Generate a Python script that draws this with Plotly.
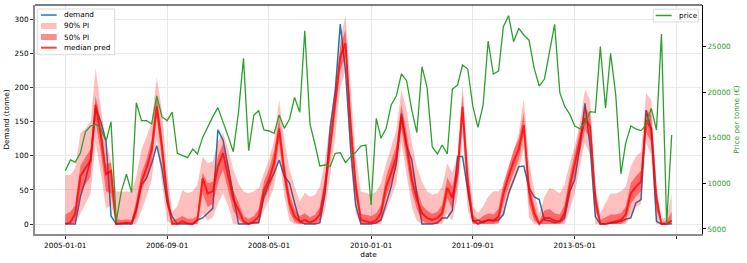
import pandas as pd
import plotly.graph_objects as go

# ---------------- data ----------------
start_month = "2005-01-01"
n_months = 120
dates = pd.date_range(start_month, periods=n_months, freq="MS").strftime("%Y-%m-%d").tolist()

demand = [0, 0, 0, 40, 65, 95, 170, 150, 122, 12, 0, 0,
          0, 0, 21, 58, 67, 89, 115, 82, 31, 11, 0, 0,
          0, 0, 6, 9, 16, 23, 138, 123, 84, 43, 0, 0,
          0, 2, 2, 40, 60, 75, 94, 70, 60, 31, 4, 0,
          0, 0, 2, 45, 140, 195, 293, 225, 110, 28, 0, 0,
          0, 2, 6, 30, 55, 90, 162, 114, 94, 45, 0, 0,
          0, 2, 9, 9, 20, 99, 99, 50, 4, 6, 2, 6,
          5, 6, 14, 45, 65, 84, 85, 53, 40, 36, 6, 5,
          2, 4, 9, 48, 65, 114, 177, 114, 11, 0, 0, 2,
          2, 4, 7, 9, 31, 36, 167, 138, 4, 0, 0, 0]

median_pred = [0, 3, 15, 70, 82, 93, 175, 130, 73, 78, 0, 1,
               2, 1, 23, 62, 82, 109, 173, 114, 40, 0, 0, 4,
               1, 0, 6, 67, 45, 48, 84, 104, 70, 36, 21, 4,
               0, 4, 11, 50, 65, 90, 140, 75, 31, 11, 4, 6,
               2, 6, 14, 55, 114, 177, 245, 265, 143, 55, 6, 4,
               2, 6, 16, 55, 75, 99, 158, 115, 65, 36, 16, 9,
               6, 9, 16, 53, 38, 75, 172, 60, 6, 0, 4, 6,
               5, 11, 45, 70, 92, 110, 145, 48, 16, 0, 9, 9,
               5, 4, 16, 55, 89, 123, 155, 143, 36, 0, 0, 2,
               4, 6, 14, 45, 55, 62, 152, 140, 36, 0, 0, 5]

pi90_low = [0, 0, 0, 15, 30, 45, 120, 75, 23, 28, 0, 0,
            0, 0, 0, 20, 40, 65, 125, 60, 5, 0, 0, 0,
            0, 0, 0, 15, 5, 10, 30, 45, 26, 0, 0, 0,
            0, 0, 0, 20, 35, 55, 100, 40, 5, 0, 0, 0,
            0, 0, 0, 20, 70, 130, 200, 225, 90, 15, 0, 0,
            0, 0, 0, 20, 40, 60, 120, 70, 25, 5, 0, 0,
            0, 0, 0, 15, 5, 40, 130, 20, 0, 0, 0, 0,
            0, 0, 15, 40, 60, 80, 110, 10, 0, 0, 0, 0,
            0, 0, 0, 20, 45, 85, 120, 100, 0, 0, 0, 0,
            0, 0, 0, 10, 25, 30, 120, 100, 0, 0, 0, 0]

pi90_high = [72, 72, 82, 133, 140, 150, 228, 170, 118, 92, 48, 47,
             48, 47, 70, 110, 128, 150, 215, 167, 75, 18, 26, 50,
             45, 48, 58, 99, 89, 92, 121, 133, 109, 80, 60, 48,
             45, 48, 53, 75, 94, 123, 182, 123, 80, 55, 33, 46,
             40, 43, 55, 94, 148, 206, 270, 306, 201, 99, 48, 45,
             43, 48, 60, 89, 114, 138, 197, 167, 118, 84, 62, 48,
             43, 45, 55, 89, 75, 99, 205, 99, 26, 16, 26, 40,
             48, 48, 55, 82, 109, 133, 184, 90, 50, 15, 40, 53,
             50, 45, 58, 89, 114, 148, 197, 182, 55, 16, 31, 45,
             45, 48, 55, 84, 99, 106, 192, 182, 55, 8, 10, 45]

pi50_low = [0, 0, 3, 45, 58, 70, 150, 105, 48, 45, 0, 0,
            0, 0, 10, 48, 68, 92, 155, 95, 25, 0, 0, 0,
            0, 0, 0, 45, 25, 30, 60, 80, 50, 20, 8, 0,
            0, 0, 2, 35, 50, 72, 120, 60, 18, 3, 0, 0,
            0, 0, 5, 40, 95, 160, 225, 245, 120, 40, 0, 0,
            0, 0, 5, 40, 60, 82, 140, 95, 48, 22, 5, 0,
            0, 0, 5, 38, 22, 58, 150, 40, 0, 0, 0, 0,
            0, 2, 30, 55, 75, 95, 130, 30, 5, 0, 0, 0,
            0, 0, 5, 40, 72, 105, 138, 125, 20, 0, 0, 0,
            0, 0, 4, 30, 40, 48, 135, 120, 20, 0, 0, 0]

pi50_high = [14, 18, 28, 85, 98, 110, 188, 150, 88, 90, 8, 6,
             7, 6, 35, 75, 95, 125, 190, 130, 55, 5, 8, 12,
             8, 8, 12, 75, 60, 62, 100, 118, 85, 50, 32, 12,
             8, 12, 22, 62, 80, 108, 155, 90, 45, 22, 12, 16,
             10, 14, 25, 70, 130, 190, 260, 285, 165, 72, 15, 14,
             12, 16, 28, 70, 92, 115, 175, 135, 85, 52, 28, 20,
             15, 18, 28, 68, 55, 90, 190, 80, 14, 6, 12, 16,
             14, 22, 60, 86, 108, 125, 162, 65, 28, 5, 20, 22,
             16, 14, 28, 70, 105, 140, 172, 160, 52, 6, 10, 14,
             14, 16, 25, 60, 70, 78, 168, 160, 52, 3, 4, 18]

price = [11400, 12570, 12330, 13330, 15670, 16300, 16480, 16040, 14580, 16770, 5800, 9100,
         11000, 9000, 18850, 16880, 16880, 16520, 19590, 17320, 16880, 17830, 13300, 13080,
         12820, 13770, 13230, 15050, 16220, 17320, 18310, 16770, 15130, 13480, 17800, 23720,
         13590, 17500, 17980, 15860, 15750, 15490, 17500, 16040, 17065, 19440, 17800, 26750,
         16520, 14210, 11910, 12020, 11840, 13300, 13370, 12275, 12930, 13410, 14100, 14210,
         7630, 17140, 14950, 16040, 18600, 19620, 22000, 21270, 18050, 15570, 22800, 20540,
         14030, 13230, 14210, 13230, 20320, 20790, 22990, 22550, 18420, 16150, 18600, 25620,
         22000, 22330, 27190, 28400, 25550, 27010, 26280, 25730, 22620, 20680, 21450, 24400,
         27450, 19950, 18490, 17610, 16300, 16000, 16590, 17870, 17800, 25000, 18240, 24270,
         19700, 11030, 14400, 16300, 15970, 15790, 16410, 18240, 15860, 26390, 5550, 15310]

x_tick_vals = ["2005-01-01", "2006-09-01", "2008-05-01", "2010-01-01",
               "2011-09-01", "2013-05-01", "2015-01-01"]
x_tick_text = ["2005-01-01", "2006-09-01", "2008-05-01", "2010-01-01",
               "2011-09-01", "2013-05-01", ""]
left_ticks = [0, 50, 100, 150, 200, 250, 300]
right_ticks = [5000, 10000, 15000, 20000, 25000]
right_tick_text = ["5000", "10000", "15000", "20000", "25000"]
legend_left_labels = ["demand", "90% PI", "50% PI", "median pred"]
legend_right_labels = ["price"]

# ---------------- style ----------------
BLUE = "#1f77b4"
GREEN = "#2ca02c"
FILL90 = "rgba(255,0,0,0.25)"
FILL50 = "rgba(255,0,0,0.45)"
MED = "rgba(255,0,0,0.75)"
FONT = "DejaVu Sans"
FS = 7.3
W, H = 747, 263
ML, MR, MT, MB = 35, 45, 5, 29
PW, PH = W - ML - MR, H - MT - MB


def X(px):
    return (px - ML) / PW


def Y(py):
    return (H - MB - py) / PH


fig = go.Figure()
fig.add_trace(go.Scatter(x=dates, y=demand, mode="lines", line=dict(color=BLUE, width=1.5),
                         name=legend_left_labels[0]))
fig.add_trace(go.Scatter(x=dates, y=pi90_low, mode="lines", line=dict(width=0),
                         hoverinfo="skip"))
fig.add_trace(go.Scatter(x=dates, y=pi90_high, mode="lines", line=dict(width=0),
                         fill="tonexty", fillcolor=FILL90, name=legend_left_labels[1]))
fig.add_trace(go.Scatter(x=dates, y=pi50_low, mode="lines", line=dict(width=0),
                         hoverinfo="skip"))
fig.add_trace(go.Scatter(x=dates, y=pi50_high, mode="lines", line=dict(width=0),
                         fill="tonexty", fillcolor=FILL50, name=legend_left_labels[2]))
fig.add_trace(go.Scatter(x=dates, y=median_pred, mode="lines", line=dict(color=MED, width=2),
                         name=legend_left_labels[3]))
fig.add_trace(go.Scatter(x=dates, y=price, mode="lines", line=dict(color=GREEN, width=1.3),
                         name=legend_right_labels[0], yaxis="y2"))

fig.update_layout(
    width=W, height=H, autosize=False,
    margin=dict(l=ML, r=MR, t=MT, b=MB, pad=0),
    paper_bgcolor="white", plot_bgcolor="white",
    showlegend=False,
    font=dict(family=FONT, size=FS, color="#000000"),
    xaxis=dict(
        type="date", range=["2004-07-04", "2015-05-31"],
        tickmode="array", tickvals=x_tick_vals, ticktext=x_tick_text,
        showgrid=True, gridcolor="#e9e9e9", gridwidth=1,
        showline=True, linecolor="#8c8c8c", linewidth=2,
        ticks="outside", ticklen=3, tickwidth=0.8, tickcolor="#333333",
        zeroline=False,
        title=dict(text="date", standoff=3, font=dict(size=FS)),
        tickfont=dict(size=FS),
    ),
    yaxis=dict(
        range=[-14.5, 321], tickmode="array", tickvals=left_ticks,
        showgrid=True, gridcolor="#e9e9e9", gridwidth=1,
        showline=True, linecolor="#8c8c8c", linewidth=2,
        ticks="outside", ticklen=3, tickwidth=0.8, tickcolor="#333333",
        zeroline=False,
        title=dict(text="Demand (tonne)", standoff=4, font=dict(size=FS)),
        tickfont=dict(size=FS),
    ),
    yaxis2=dict(
        overlaying="y", side="right", anchor="x",
        range=[4450, 29570], tickmode="array", tickvals=right_ticks, ticktext=right_tick_text,
        showgrid=False, zeroline=False,
        showline=True, linecolor="#000000", linewidth=1,
        ticks="outside", ticklen=3, tickwidth=0.8, tickcolor="#000000",
        tickfont=dict(size=FS, color=GREEN),
        title=dict(text="Price per tonne (€)", standoff=3, font=dict(size=FS, color=GREEN)),
    ),
)

shapes = [
    dict(type="line", xref="paper", yref="paper", x0=0, x1=1, y0=1, y1=1,
         line=dict(color="#000000", width=1), layer="above"),
    dict(type="rect", xref="paper", yref="paper", x0=X(37.7), x1=X(114.7), y0=Y(54.7), y1=Y(9),
         line=dict(color="#d0d0d0", width=0.8), fillcolor="rgba(255,255,255,0.8)", layer="above"),
    dict(type="line", xref="paper", yref="paper", x0=X(41), x1=X(56.7), y0=Y(15), y1=Y(15),
         line=dict(color=BLUE, width=1.5), layer="above"),
    dict(type="rect", xref="paper", yref="paper", x0=X(41), x1=X(56.7), y0=Y(29), y1=Y(23),
         line=dict(width=0), fillcolor=FILL90, layer="above"),
    dict(type="rect", xref="paper", yref="paper", x0=X(41), x1=X(56.7), y0=Y(40), y1=Y(34),
         line=dict(width=0), fillcolor=FILL50, layer="above"),
    dict(type="line", xref="paper", yref="paper", x0=X(41), x1=X(56.7), y0=Y(47.7), y1=Y(47.7),
         line=dict(color=MED, width=2), layer="above"),
    dict(type="rect", xref="paper", yref="paper", x0=X(653.3), x1=X(698.3), y0=Y(21.9), y1=Y(9.2),
         line=dict(color="#d0d0d0", width=0.8), fillcolor="rgba(255,255,255,0.8)", layer="above"),
    dict(type="line", xref="paper", yref="paper", x0=X(655.7), x1=X(671.7), y0=Y(15.5), y1=Y(15.5),
         line=dict(color=GREEN, width=1.5), layer="above"),
]
fig.update_layout(shapes=shapes)

legend_y = [15, 26, 37, 47.7]
annotations = []
for lab, py in zip(legend_left_labels, legend_y):
    annotations.append(dict(text=lab, xref="paper", yref="paper", x=X(62.3), y=Y(py),
                            xanchor="left", yanchor="middle", showarrow=False,
                            font=dict(size=FS, color="#000000")))
annotations.append(dict(text=legend_right_labels[0], xref="paper", yref="paper", x=X(677),
                        y=Y(15.5), xanchor="left", yanchor="middle", showarrow=False,
                        font=dict(size=FS, color="#000000")))
fig.update_layout(annotations=annotations)

fig.write_html("out.html", include_plotlyjs=True, full_html=True,
               config={"displayModeBar": False},
               post_script="document.body.style.margin='0';document.body.style.overflow='hidden';")
